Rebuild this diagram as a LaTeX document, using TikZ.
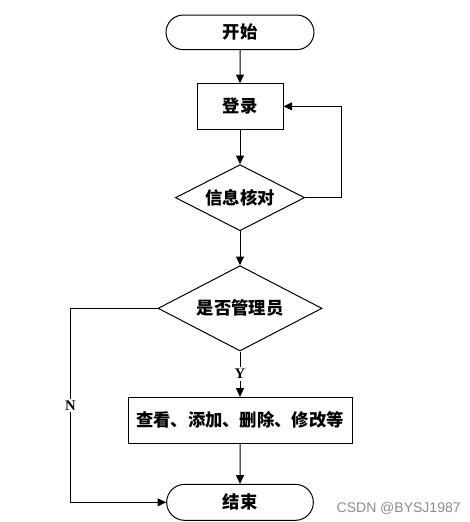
\documentclass[tikz,border=0pt]{standalone}
\usepackage{fontspec}
\newfontfamily\cjk{Noto Sans CJK SC}
\setmainfont{Liberation Serif}
\setsansfont{Liberation Sans}
\usepackage{tikz}
\usetikzlibrary{shapes.geometric, shapes.misc, arrows.meta, positioning}

\begin{document}
\begin{tikzpicture}[
    line width=0.75pt,
    term/.style={draw, rounded rectangle, minimum width=113pt, minimum height=26pt, inner sep=1pt, font=\cjk\bfseries\fontsize{13}{15}\selectfont},
    box/.style={draw, rectangle, minimum height=34pt, inner sep=1pt, font=\cjk\bfseries\fontsize{13}{15}\selectfont},
    dec/.style={draw, diamond, aspect=2, inner sep=1pt, font=\cjk\bfseries\fontsize{13}{15}\selectfont},
    lbl/.style={fill=white, inner sep=1.5pt, font=\bfseries\fontsize{11}{13}\selectfont},
    arr/.style={-{Triangle[length=6.5pt, width=6pt]}}
]
    \useasboundingbox (0,0) rectangle (352.5pt,-391.5pt);
    \node[term] (start) at (180pt,-24.25pt) {开始};
    \node[box, minimum width=64.5pt, below=24.75pt of start] (login) {登录};
    \node[dec, minimum width=97pt, minimum height=49.5pt, below=26pt of login] (check) {信息核对};
    \node[dec, minimum width=123pt, minimum height=64pt, below=25.5pt of check] (admin) {是否管理员};
    \node[box, minimum width=168pt, minimum height=34.5pt, below=34pt of admin] (manage) {查看、添加、删除、修改等};
    \node[term, minimum width=112pt, minimum height=27pt, below=30pt of manage] (end) {结束};
    \draw[arr] (start) -- (login);
    \draw[arr] (login) -- (check);
    \draw[arr] (check.east) -- ++(27pt,0) |- (login.east);
    \draw[arr] (check) -- (admin);
    \draw[arr] (admin) -- node[lbl] {Y} (manage);
    \draw[arr] (admin.west) -- ++(-65.25pt,0) |- node[lbl, pos=0.25] {N} (end.west);
    \draw[arr] (manage) -- (end);
    \node[font=\sffamily\fontsize{10.5}{12}\selectfont, text=black!45] (mark) at (299pt,-381pt) {CSDN @BYSJ1987};
\end{tikzpicture}
\end{document}
